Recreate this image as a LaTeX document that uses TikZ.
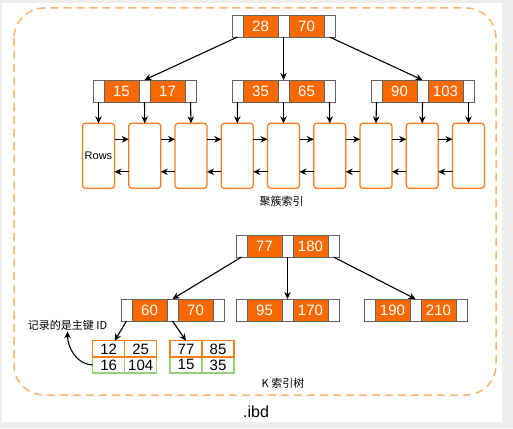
\documentclass[tikz,border=0pt]{standalone}
\usepackage{fontspec}
\setmainfont{Liberation Sans}
\newfontfamily\cjk{Noto Sans CJK SC}
\usetikzlibrary{arrows.meta,calc}
\definecolor{keyor}{RGB}{250,104,0}
\definecolor{leafor}{RGB}{250,125,30}
\definecolor{dashor}{RGB}{255,180,110}
\definecolor{cellbd}{RGB}{100,100,100}
\definecolor{tgreen}{RGB}{151,208,119}
\definecolor{bggray}{RGB}{238,238,238}
\tikzset{
  pcell/.style={draw=cellbd, fill=white, minimum width=11pt, minimum height=22pt, inner sep=0pt, outer sep=0pt, line width=0.8pt},
  kcell/.style={draw=cellbd, fill=keyor, minimum width=35pt, minimum height=22pt, inner sep=0pt, outer sep=0pt, line width=0.8pt, text=white, font=\fontsize{15}{17}\selectfont},
  leaf/.style={draw=leafor, fill=white, line width=1.3pt, rounded corners=3pt, minimum width=32pt, minimum height=65pt, inner sep=0pt, outer sep=0pt},
  arr/.style={-{Stealth[length=7pt,width=6.5pt]}, line width=1.1pt, black},
  tcell/.style={fill=white, minimum width=32pt, minimum height=16.3pt, inner sep=0pt, outer sep=0pt, line width=1.1pt, font=\fontsize{15}{17}\selectfont},
  cjklabel/.style={font=\cjk\fontsize{11}{13}\selectfont, inner sep=1pt}
}
\newcommand\keyrow[5]{%
  \node[pcell, anchor=north west] (#1-p1) at (#2,#3) {};
  \node[kcell, anchor=west] (#1-k1) at (#1-p1.east) {#4};
  \node[pcell, anchor=west] (#1-p2) at (#1-k1.east) {};
  \node[kcell, anchor=west] (#1-k2) at (#1-p2.east) {#5};
  \node[pcell, anchor=west] (#1-p3) at (#1-k2.east) {};
}
\begin{document}
\begin{tikzpicture}[x=1pt,y=-1pt]
\useasboundingbox (0,0) rectangle (513,428);
\fill[bggray] (0,0) rectangle (513,428);
\fill[white] (2,3) rectangle (502,422);
\draw[dashor, line width=1.5pt, dash pattern=on 8pt off 5pt, rounded corners=30pt] (14,8) rectangle (496,395);

% clustered index
\keyrow{R1}{232}{15}{28}{70}
\keyrow{A1}{93}{80}{15}{17}
\keyrow{B1}{232}{80}{35}{65}
\keyrow{C1}{371}{80}{90}{103}
\draw[arr] (R1-p1.south) -- (A1-p2.north);
\draw[arr] (R1-p2.south) -- (B1-p2.north);
\draw[arr] (R1-p3.south) -- (C1-p2.north);

\node[leaf, font=\fontsize{11}{13}\selectfont] (L1) at (98.5,155.8) {Rows};
\foreach \i in {2,...,9} \node[leaf] (L\i) at ({98.5+46.25*(\i-1)},155.8) {};
\foreach \i [evaluate=\i as \j using int(\i+1)] in {1,...,8} {
  \draw[arr] ([yshift=16.5pt]L\i.east) -- ([yshift=16.5pt]L\j.west);
  \draw[arr] ([yshift=-16pt]L\j.west) -- ([yshift=-16pt]L\i.east);
}
\draw[arr] (A1-p1.south) -- (L1.north);
\draw[arr] (A1-p2.south) -- (L2.north);
\draw[arr] (A1-p3.south) -- (L3.north);
\draw[arr] (B1-p1.south) -- (L4.north);
\draw[arr] (B1-p2.south) -- (L5.north);
\draw[arr] (B1-p3.south) -- (L6.north);
\draw[arr] (C1-p1.south) -- (L7.north);
\draw[arr] (C1-p2.south) -- (L8.north);
\draw[arr] (C1-p3.south) -- (L9.north);
\node[cjklabel] (lab1) at (281.7,201.7) {聚簇索引};

% secondary index
\keyrow{R2}{236}{235}{77}{180}
\keyrow{A2}{121}{299}{60}{70}
\keyrow{B2}{236}{299}{95}{170}
\keyrow{C2}{364}{299}{190}{210}
\draw[arr] (R2-p1.south) -- (A2-p2.north);
\draw[arr] (R2-p2.south) -- (B2-p2.north);
\draw[arr] (R2-p3.south) -- (C2-p2.north);

\node[tcell, draw=tgreen, anchor=north west] (T1c) at (92.7,356.7) {16};
\node[tcell, draw=tgreen, anchor=west] (T1d) at (T1c.east) {104};
\node[tcell, draw=leafor, anchor=north west] (T1a) at (92.7,340.7) {12};
\node[tcell, draw=leafor, anchor=west] (T1b) at (T1a.east) {25};
\node[tcell, draw=tgreen, anchor=north west] (T2c) at (170,356.7) {15};
\node[tcell, draw=tgreen, anchor=west] (T2d) at (T2c.east) {35};
\node[tcell, draw=leafor, anchor=north west] (T2a) at (170,340.7) {77};
\node[tcell, draw=leafor, anchor=west] (T2b) at (T2a.east) {85};
\draw[arr] (A2-p1.south) -- ([xshift=6pt]T1a.north);
\draw[arr] (A2-p2.south) -- (T2a.north);

\node[cjklabel] (lab3) at (67.5,325) {记录的是主键 ID};
\draw[arr] (T1c.west) .. controls +(-16,0) and +(0,16) .. (lab3.south);
\node[cjklabel] (lab2) at (283,383.3) {K 索引树};
\node[font=\fontsize{16}{18}\selectfont] (ibd) at (256,411.7) {.ibd};
\end{tikzpicture}
\end{document}
